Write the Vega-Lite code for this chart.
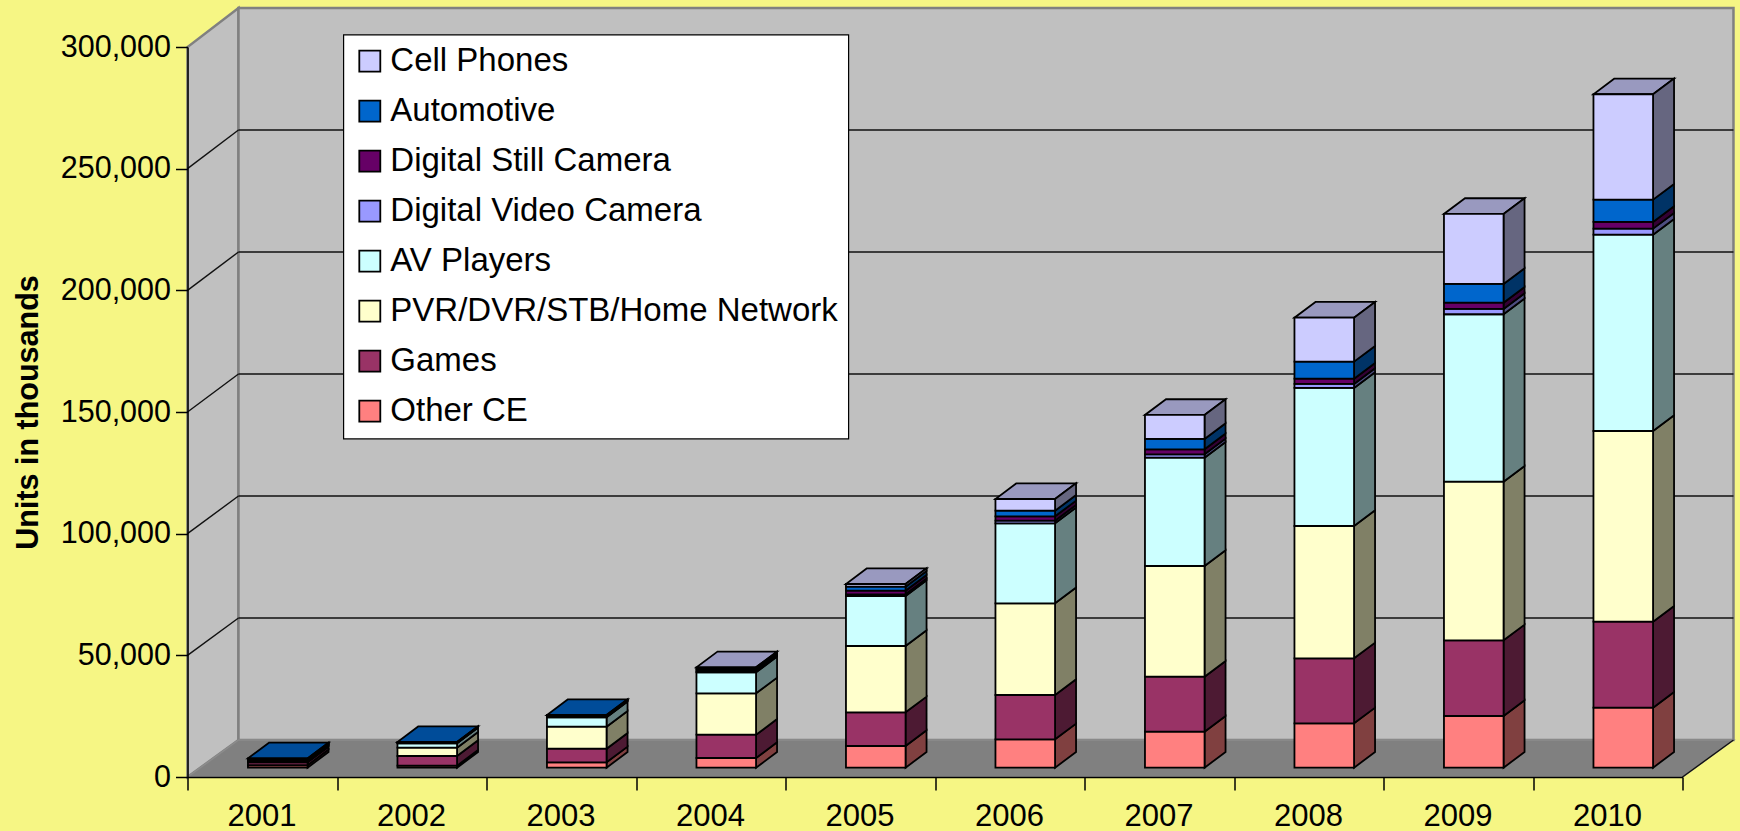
{"$schema":"https://vega.github.io/schema/vega-lite/v6.json","width":1495,"height":730,"autosize":{"type":"none"},"padding":{"left":187.5,"top":47,"right":57.5,"bottom":54},"background":"#F6F684","datasets":{"units":[
{"year":2001,"category":"Other CE","value":1000},{"year":2001,"category":"Games","value":1200},{"year":2001,"category":"PVR/DVR/STB/Home Network","value":500},{"year":2001,"category":"AV Players","value":500},{"year":2001,"category":"Digital Video Camera","value":100},{"year":2001,"category":"Digital Still Camera","value":200},{"year":2001,"category":"Automotive","value":340},
{"year":2002,"category":"Other CE","value":820},{"year":2002,"category":"Games","value":3990},{"year":2002,"category":"PVR/DVR/STB/Home Network","value":3410},{"year":2002,"category":"AV Players","value":1810},{"year":2002,"category":"Digital Video Camera","value":100},{"year":2002,"category":"Digital Still Camera","value":200},{"year":2002,"category":"Automotive","value":230},
{"year":2003,"category":"Other CE","value":2220},{"year":2003,"category":"Games","value":5590},{"year":2003,"category":"PVR/DVR/STB/Home Network","value":9040},{"year":2003,"category":"AV Players","value":3860},{"year":2003,"category":"Digital Video Camera","value":200},{"year":2003,"category":"Digital Still Camera","value":300},{"year":2003,"category":"Automotive","value":450},
{"year":2004,"category":"Other CE","value":3990},{"year":2004,"category":"Games","value":9570},{"year":2004,"category":"PVR/DVR/STB/Home Network","value":17020},{"year":2004,"category":"AV Players","value":8620},{"year":2004,"category":"Digital Video Camera","value":300},{"year":2004,"category":"Digital Still Camera","value":700},{"year":2004,"category":"Automotive","value":600},{"year":2004,"category":"Cell Phones","value":460},
{"year":2005,"category":"Other CE","value":8920},{"year":2005,"category":"Games","value":13850},{"year":2005,"category":"PVR/DVR/STB/Home Network","value":27250},{"year":2005,"category":"AV Players","value":20550},{"year":2005,"category":"Digital Video Camera","value":700},{"year":2005,"category":"Digital Still Camera","value":1480},{"year":2005,"category":"Automotive","value":1640},{"year":2005,"category":"Cell Phones","value":1110},
{"year":2006,"category":"Other CE","value":11670},{"year":2006,"category":"Games","value":18210},{"year":2006,"category":"PVR/DVR/STB/Home Network","value":37690},{"year":2006,"category":"AV Players","value":32880},{"year":2006,"category":"Digital Video Camera","value":1070},{"year":2006,"category":"Digital Still Camera","value":1800},{"year":2006,"category":"Automotive","value":2310},{"year":2006,"category":"Cell Phones","value":4800},
{"year":2007,"category":"Other CE","value":14800},{"year":2007,"category":"Games","value":22600},{"year":2007,"category":"PVR/DVR/STB/Home Network","value":45500},{"year":2007,"category":"AV Players","value":44500},{"year":2007,"category":"Digital Video Camera","value":1400},{"year":2007,"category":"Digital Still Camera","value":2060},{"year":2007,"category":"Automotive","value":4240},{"year":2007,"category":"Cell Phones","value":9860},
{"year":2008,"category":"Other CE","value":18250},{"year":2008,"category":"Games","value":26710},{"year":2008,"category":"PVR/DVR/STB/Home Network","value":54380},{"year":2008,"category":"AV Players","value":56720},{"year":2008,"category":"Digital Video Camera","value":1640},{"year":2008,"category":"Digital Still Camera","value":2180},{"year":2008,"category":"Automotive","value":6990},{"year":2008,"category":"Cell Phones","value":18080},
{"year":2009,"category":"Other CE","value":21250},{"year":2009,"category":"Games","value":31110},{"year":2009,"category":"PVR/DVR/STB/Home Network","value":65180},{"year":2009,"category":"AV Players","value":68810},{"year":2009,"category":"Digital Video Camera","value":2180},{"year":2009,"category":"Digital Still Camera","value":2580},{"year":2009,"category":"Automotive","value":7690},{"year":2009,"category":"Cell Phones","value":28770},
{"year":2010,"category":"Other CE","value":24660},{"year":2010,"category":"Games","value":35340},{"year":2010,"category":"PVR/DVR/STB/Home Network","value":78380},{"year":2010,"category":"AV Players","value":80680},{"year":2010,"category":"Digital Video Camera","value":2470},{"year":2010,"category":"Digital Still Camera","value":2750},{"year":2010,"category":"Automotive","value":9170},{"year":2010,"category":"Cell Phones","value":43320}
],"depth":[{"d":0},{"d":1}],"ticks":[{"tick":50000},{"tick":100000},{"tick":150000},{"tick":200000},{"tick":250000}]},
"data":{"name":"units"},
"transform":[
{"calculate":"indexof(['Other CE','Games','PVR/DVR/STB/Home Network','AV Players','Digital Video Camera','Digital Still Camera','Automotive','Cell Phones'],datum.category)","as":"ord"},
{"stack":"value","groupby":["year"],"sort":[{"field":"ord","order":"ascending"}],"as":["v0","v1"]},
{"calculate":"datum.year+0.1037-0.1993","as":"xl"},{"calculate":"datum.year+0.1037+0.1993","as":"xr"},{"calculate":"datum.v0+3820","as":"yl"},{"calculate":"datum.v1+3820","as":"yu"}],
"encoding":{
"x":{"field":"xa","type":"quantitative","scale":{"domain":[2000.5,2010.5],"nice":false,"zero":false},"axis":{"title":null,"values":[2000.5,2001.5,2002.5,2003.5,2004.5,2005.5,2006.5,2007.5,2008.5,2009.5,2010.5],"labelExpr":"datum.value>2010?'':format(datum.value+0.5,'d')","labelOffset":74,"labelFont":"Liberation Sans","labelFontSize":31,"labelColor":"#000","labelPadding":11,"labelOverlap":false,"labelBound":false,"labelFlush":false,"labelAngle":0,"tickSize":13,"tickColor":"#000","tickWidth":1.5,"domainColor":"#000","domainWidth":1.5,"grid":false,"zindex":1}},
"y":{"field":"ya","type":"quantitative","scale":{"domain":[0,300000],"nice":false},"axis":{"title":"Units in thousands","titleFont":"Liberation Sans","titleFontSize":30.5,"titleFontWeight":"bold","titleColor":"#000","titlePadding":17,"values":[0,50000,100000,150000,200000,250000,300000],"labelExpr":"format(datum.value,',')","labelFont":"Liberation Sans","labelFontSize":30.5,"labelColor":"#000","labelPadding":5,"labelOverlap":false,"labelBound":false,"labelFlush":false,"tickSize":12,"tickColor":"#000","tickWidth":1.5,"domainColor":"#000","domainWidth":1.5,"grid":false,"zindex":1}}},
"layer":[
{"data":{"name":"depth"},"transform":[{"calculate":"2000.5+datum.d*0.341","as":"xa"},{"calculate":"datum.d*15205","as":"ya"},{"calculate":"300000+datum.d*16027","as":"yb"}],"mark":{"type":"area","fill":"#C0C0C0","stroke":"#808080","strokeWidth":2.5},"encoding":{"y2":{"field":"yb"}}},
{"data":{"values":[{"part":"back wall"}]},"transform":[{"calculate":"2000.841","as":"xa"},{"calculate":"2010.841","as":"xb"},{"calculate":"15205","as":"ya"},{"calculate":"316027","as":"yb"}],"mark":{"type":"rect","fill":"#C0C0C0","stroke":"#808080","strokeWidth":2.5},"encoding":{"x2":{"field":"xb"},"y2":{"field":"yb"}}},
{"data":{"name":"depth"},"transform":[{"calculate":"2000.5+datum.d*0.341","as":"xa"},{"calculate":"2010.5+datum.d*0.341","as":"xb"},{"calculate":"datum.d*15205","as":"ya"}],"mark":{"type":"area","orient":"horizontal","fill":"#808080","stroke":"#8c8c8c","strokeWidth":1.5},"encoding":{"x2":{"field":"xb"}}},
{"data":{"name":"ticks"},"transform":[{"calculate":"2000.841","as":"xa"},{"calculate":"2010.841","as":"xb"},{"calculate":"datum.tick*1.00274+15205","as":"ya"}],"mark":{"type":"rule","color":"#111","strokeWidth":1.4},"encoding":{"x2":{"field":"xb"}}},
{"data":{"name":"ticks"},"transform":[{"calculate":"2000.5","as":"xa"},{"calculate":"2000.841","as":"xb"},{"calculate":"datum.tick","as":"ya"},{"calculate":"datum.tick*1.00274+15205","as":"yb"}],"mark":{"type":"rule","color":"#111","strokeWidth":1.4},"encoding":{"x2":{"field":"xb"},"y2":{"field":"yb"}}},
{"data":{"values":[{"tick":0}]},"transform":[{"calculate":"2010.5","as":"xa"},{"calculate":"2010.841","as":"xb"},{"calculate":"datum.tick","as":"ya"},{"calculate":"datum.tick+15205","as":"yb"}],"mark":{"type":"rule","color":"#111","strokeWidth":1.4},"encoding":{"x2":{"field":"xb"},"y2":{"field":"yb"}}},
{"transform":[{"joinaggregate":[{"op":"max","field":"v1","as":"top"}],"groupby":["year"]},{"filter":"datum.v1==datum.top"},{"calculate":"[0,1]","as":"d"},{"flatten":["d"]},{"calculate":"datum.xl+datum.d*0.1405","as":"xa"},{"calculate":"datum.xr+datum.d*0.1405","as":"xb"},{"calculate":"datum.yu+datum.d*6450","as":"ya"}],"mark":{"type":"area","orient":"horizontal","stroke":"#000","strokeWidth":1.8,"opacity":1},"encoding":{"x2":{"field":"xb"},"detail":{"field":"year"},"color":{"field":"category","type":"nominal","legend":null,"scale":{"domain":["Automotive","Cell Phones"],"range":["#004C99","#9999BF"]}}}},
{"transform":[{"calculate":"[0,1]","as":"d"},{"flatten":["d"]},{"calculate":"datum.xr+datum.d*0.1405","as":"xa"},{"calculate":"datum.yl+datum.d*6450","as":"ya"},{"calculate":"datum.yu+datum.d*6450","as":"yb"}],"mark":{"type":"area","stroke":"#000","strokeWidth":1.8,"opacity":1},"encoding":{"y2":{"field":"yb"},"detail":{"field":"year"},"color":{"field":"category","type":"nominal","legend":null,"scale":{"domain":["Cell Phones","Automotive","Digital Still Camera","Digital Video Camera","AV Players","PVR/DVR/STB/Home Network","Games","Other CE"],"range":["#666680","#003366","#330033","#4D4D80","#668080","#808066","#4D1A33","#804040"]}}}},
{"transform":[{"calculate":"datum.xl","as":"xa"},{"calculate":"datum.xr","as":"xb"},{"calculate":"datum.yl","as":"ya"},{"calculate":"datum.yu","as":"yb"}],"mark":{"type":"rect","stroke":"#000","strokeWidth":1.8,"opacity":1},"encoding":{"x2":{"field":"xb"},"y2":{"field":"yb"},"color":{"field":"category","type":"nominal","scale":{"domain":["Cell Phones","Automotive","Digital Still Camera","Digital Video Camera","AV Players","PVR/DVR/STB/Home Network","Games","Other CE"],"range":["#CCCCFF","#0066CC","#660066","#9999FF","#CCFFFF","#FFFFCC","#993366","#FF8080"]},"legend":{"title":null,"orient":"none","legendX":155.8,"legendY":-12.4,"fillColor":"#FFFFFF","strokeColor":"#000","padding":10,"symbolType":"square","symbolSize":441,"symbolStrokeColor":"#000","symbolStrokeWidth":1.8,"symbolOpacity":1,"labelFont":"Liberation Sans","labelFontSize":33,"labelColor":"#000","labelOffset":4,"labelLimit":600,"rowPadding":16}}}}
],
"resolve":{"scale":{"color":"independent"}},
"config":{"view":{"stroke":null},"legend":{"strokeWidth":1.2}}}
